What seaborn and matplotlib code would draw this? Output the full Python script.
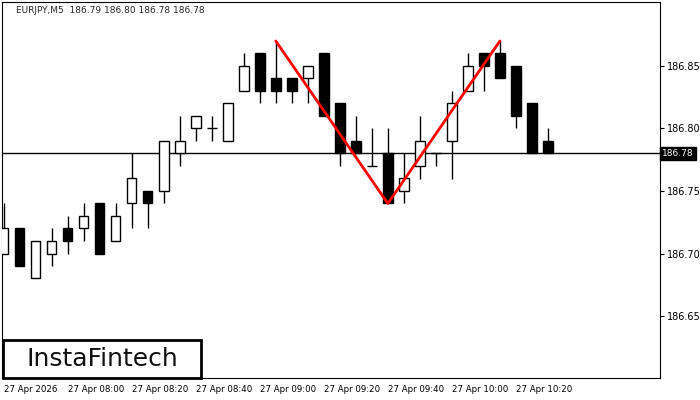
import matplotlib
matplotlib.use("Agg")
import matplotlib.pyplot as plt
from matplotlib.patches import Rectangle
import seaborn as sns
import pandas as pd

opens  = [186.70,186.72,186.68,186.70,186.72,186.72,186.74,186.71,186.74,186.75,186.75,186.78,186.80,186.80,186.79,186.83,186.86,186.84,186.84,186.84,186.86,186.82,186.79,186.77,186.78,186.75,186.77,186.78,186.79,186.83,186.86,186.86,186.85,186.82,186.79]
closes = [186.72,186.69,186.71,186.71,186.71,186.73,186.70,186.73,186.76,186.74,186.79,186.79,186.81,186.80,186.82,186.85,186.83,186.83,186.83,186.85,186.81,186.78,186.78,186.77,186.74,186.76,186.79,186.78,186.82,186.85,186.85,186.84,186.81,186.78,186.78]
highs  = [186.74,186.72,186.71,186.72,186.73,186.74,186.74,186.74,186.78,186.75,186.79,186.81,186.81,186.81,186.82,186.86,186.86,186.87,186.84,186.85,186.86,186.82,186.81,186.80,186.80,186.78,186.81,186.78,186.83,186.86,186.86,186.87,186.85,186.82,186.80]
lows   = [186.70,186.69,186.68,186.69,186.70,186.71,186.70,186.71,186.72,186.72,186.74,186.77,186.79,186.79,186.79,186.83,186.82,186.82,186.82,186.82,186.81,186.77,186.78,186.77,186.74,186.74,186.76,186.77,186.76,186.83,186.83,186.84,186.80,186.78,186.78]
pattern_idx = [17, 24, 31]
pattern_price = [186.87, 186.74, 186.87]
current_price = 186.78
y_ticks = [186.65, 186.70, 186.75, 186.80, 186.85]
x_tick_idx = [0, 4, 8, 12, 16, 20, 24, 28, 32]
x_tick_labels = ["27 Apr 2026", "27 Apr 08:00", "27 Apr 08:20", "27 Apr 08:40", "27 Apr 09:00",
                 "27 Apr 09:20", "27 Apr 09:40", "27 Apr 10:00", "27 Apr 10:20"]
title = "EURJPY,M5  186.79 186.80 186.78 186.78"

sns.set_style("white")
plt.rcParams['font.family'] = ['DejaVu Sans']
fig = plt.figure(figsize=(7, 4), dpi=100)
ax = fig.add_axes([2/700, 22/400, 658/700, 376/400])

for i, (o, c, h, l) in enumerate(zip(opens, closes, highs, lows)):
    ax.vlines(i, l, h, color="black", lw=1, zorder=2)
    bottom, top = min(o, c), max(o, c)
    face = "white" if c >= o else "black"
    if abs(c - o) < 1e-9:
        ax.hlines(o, i - 0.3, i + 0.3, color="black", lw=1, zorder=3)
    else:
        ax.bar(i, top - bottom, bottom=bottom, width=0.6, color=face, edgecolor="black", lw=1, zorder=3)

ax.axhline(current_price, color="black", lw=1, zorder=1)
df = pd.DataFrame({"i": pattern_idx, "p": pattern_price})
sns.lineplot(data=df, x="i", y="p", color="red", lw=2, ax=ax, zorder=4, sort=False)

ax.set_xlim(-0.1, 41)
ax.set_ylim(186.6004, 186.9012)
ax.yaxis.tick_right()
ax.set_yticks(y_ticks)
ax.set_yticklabels([f"{v:.2f}" for v in y_ticks], fontsize=7)
ax.set_xticks(x_tick_idx)
ax.set_xticklabels(x_tick_labels, fontsize=6.2, ha="left")
ax.tick_params(axis="both", length=3, width=0.8, direction="out", colors="black", pad=2)
ax.set_xlabel(""); ax.set_ylabel("")
for s in ax.spines.values():
    s.set_color("black"); s.set_linewidth(0.8)

ax.text(0.022, 0.99, title, transform=ax.transAxes, fontsize=6.5, va="top", ha="left")
ax.text(1.003, (current_price - 186.6004) / (186.9012 - 186.6004), f"{current_price:.2f}",
        transform=ax.transAxes, fontsize=6.5, va="center", ha="left", color="white",
        bbox=dict(boxstyle="square,pad=0.25", fc="black", ec="black"))
fig.patches.append(Rectangle((3/700, 22/400), 198/700, 38/400, transform=fig.transFigure,
                             fc="white", ec="black", lw=2, zorder=10))
fig.text(102/700, 1 - 359/400, "InstaFintech", fontsize=18, va="center", ha="center",
         color="#111111", zorder=11)

fig.savefig("out.png", dpi=100)
